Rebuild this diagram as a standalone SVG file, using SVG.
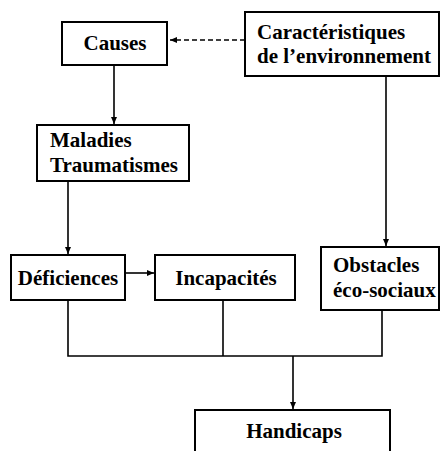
<svg xmlns="http://www.w3.org/2000/svg" width="440" height="451" viewBox="0 0 440 451">
<style>
.box{fill:#fff;stroke:#000;stroke-width:2}
.t{font-family:"Liberation Serif","Times New Roman",serif;font-weight:bold;font-size:21px;fill:#000}
.ln{fill:none;stroke:#000;stroke-width:1.6}
</style>
<defs>
<marker id="ah" markerWidth="8" markerHeight="8" refX="7" refY="4" orient="auto" markerUnits="userSpaceOnUse">
<path d="M0,1 L7,4 L0,7 Z" fill="#000"/>
</marker>
</defs>
<rect width="440" height="451" fill="#fff"/>
<g id="connectors">
<line class="ln" x1="245" y1="40" x2="170" y2="40" stroke-dasharray="5,3" marker-end="url(#ah)"/>
<line class="ln" x1="114" y1="65" x2="114" y2="124" marker-end="url(#ah)"/>
<line class="ln" x1="68" y1="181" x2="68" y2="254" marker-end="url(#ah)"/>
<line class="ln" x1="125" y1="273" x2="154" y2="273" marker-end="url(#ah)"/>
<line class="ln" x1="386" y1="76" x2="386" y2="246" marker-end="url(#ah)"/>
<polyline class="ln" points="68,300 68,356 382,356 382,310"/>
<line class="ln" x1="223" y1="300" x2="223" y2="356"/>
<line class="ln" x1="293" y1="356" x2="293" y2="409" marker-end="url(#ah)"/>
</g>
<g id="causes">
<rect class="box" x="62" y="22" width="105" height="43"/>
<text class="t" x="115" y="50" text-anchor="middle">Causes</text>
</g>
<g id="caracteristiques">
<rect class="box" x="245" y="12" width="194" height="64"/>
<text class="t" x="257" y="39">Caractéristiques</text>
<text class="t" x="257" y="63">de l’environnement</text>
</g>
<g id="maladies">
<rect class="box" x="37" y="125" width="152" height="56"/>
<text class="t" x="50" y="147">Maladies</text>
<text class="t" x="50" y="172">Traumatismes</text>
</g>
<g id="deficiences">
<rect class="box" x="11" y="255" width="114" height="45"/>
<text class="t" x="68" y="285" text-anchor="middle">Déficiences</text>
</g>
<g id="incapacites">
<rect class="box" x="155" y="255" width="140" height="45"/>
<text class="t" x="226" y="285" text-anchor="middle">Incapacités</text>
</g>
<g id="obstacles">
<rect class="box" x="321" y="247" width="118" height="63"/>
<text class="t" x="333" y="272">Obstacles</text>
<text class="t" x="333" y="297">éco-sociaux</text>
</g>
<g id="handicaps">
<rect class="box" x="195" y="410" width="195" height="50"/>
<text class="t" x="294" y="438" text-anchor="middle">Handicaps</text>
</g>
</svg>
